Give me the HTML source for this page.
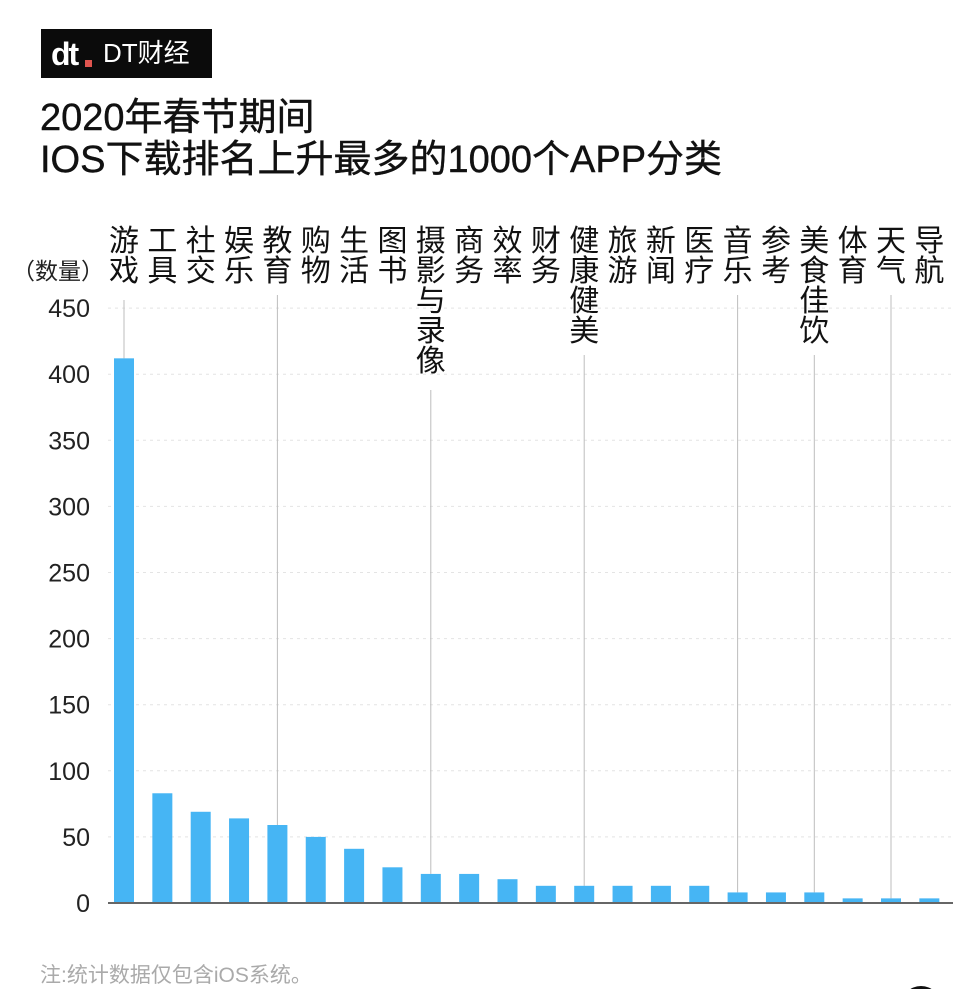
<!DOCTYPE html>
<html><head><meta charset="utf-8"><style>
body{margin:0;background:#fff;width:975px;height:989px;overflow:hidden;position:relative;font-family:"Liberation Sans","Noto Sans CJK SC",sans-serif;color:#111}
.logo{position:absolute;left:41px;top:29px;width:171px;height:49px;background:#0b0b0b}
.t{position:absolute;left:40px;font-size:38px;line-height:42px;color:#111;-webkit-text-stroke:0.4px #111;white-space:nowrap}
</style></head><body>
<div class="logo">
<div style="position:absolute;left:10px;top:9px;font:bold 32px/32px 'Liberation Sans',sans-serif;color:#fff;letter-spacing:-2px">dt</div>
<div style="position:absolute;left:44px;top:31px;width:7px;height:7px;background:#e0554f"></div>
<div style="position:absolute;left:62px;top:10px;font-size:26px;line-height:28px;color:#fff">DT财经</div>
</div>
<div class="t" style="top:97px">2020年春节期间</div>
<div class="t" style="top:139px">IOS下载排名上升最多的1000个APP分类</div>
<svg width="975" height="989" style="position:absolute;left:0;top:0" font-family="Liberation Sans, Noto Sans CJK SC, sans-serif">
<g id="grid" stroke="#e4e4e4" stroke-dasharray="3,4" stroke-width="1"></g>
<g id="vl" stroke="#bdbdbd" stroke-width="1"></g>
<g id="bars" fill="#46b5f4"></g>
<line x1="108" y1="903" x2="953" y2="903" stroke="#666" stroke-width="2"/>
<g id="yl" font-size="25" fill="#222" text-anchor="end"></g>
<g id="xl" font-size="30" fill="#111" text-anchor="middle"></g>
<text x="12" y="279" font-size="23" fill="#222">（数量）</text>
<text x="40" y="982" font-size="21" fill="#aaa">注:统计数据仅包含iOS系统。</text>
<circle cx="921" cy="1006" r="20" fill="#111"/>
</svg>
<script>
(function(){
var ns="http://www.w3.org/2000/svg";
function el(p,t,a,txt){var e=document.createElementNS(ns,t);for(var k in a)e.setAttribute(k,a[k]);if(txt!=null)e.textContent=txt;document.getElementById(p).appendChild(e);}
var z=903,u=66.1/50;
for(var v=0;v<=450;v+=50){var yy=z-v*u;if(v>0)el("grid","line",{x1:108,x2:953,y1:yy,y2:yy});el("yl","text",{x:90,y:yy+9},v);}
var names=["游戏","工具","社交","娱乐","教育","购物","生活","图书","摄影与录像","商务","效率","财务","健康健美","旅游","新闻","医疗","音乐","参考","美食佳饮","体育","天气","导航"];
var vals=[412,83,69,64,59,50,41,27,22,22,18,13,13,13,13,13,8,8,8,3.5,3.5,3.5];
var vlines={0:300,4:295,8:390,12:355,16:295,18:355,20:295};
for(var i=0;i<22;i++){var x=124+i*38.35;var bt=z-vals[i]*u;
if(vlines[i]!=null)el("vl","line",{x1:x,x2:x,y1:vlines[i],y2:bt});
el("bars","rect",{x:x-10,y:bt,width:20,height:vals[i]*u});
var n=names[i];for(var j=0;j<n.length;j++)el("xl","text",{x:x,y:251+j*30},n[j]);}
})();
</script>
</body></html>
